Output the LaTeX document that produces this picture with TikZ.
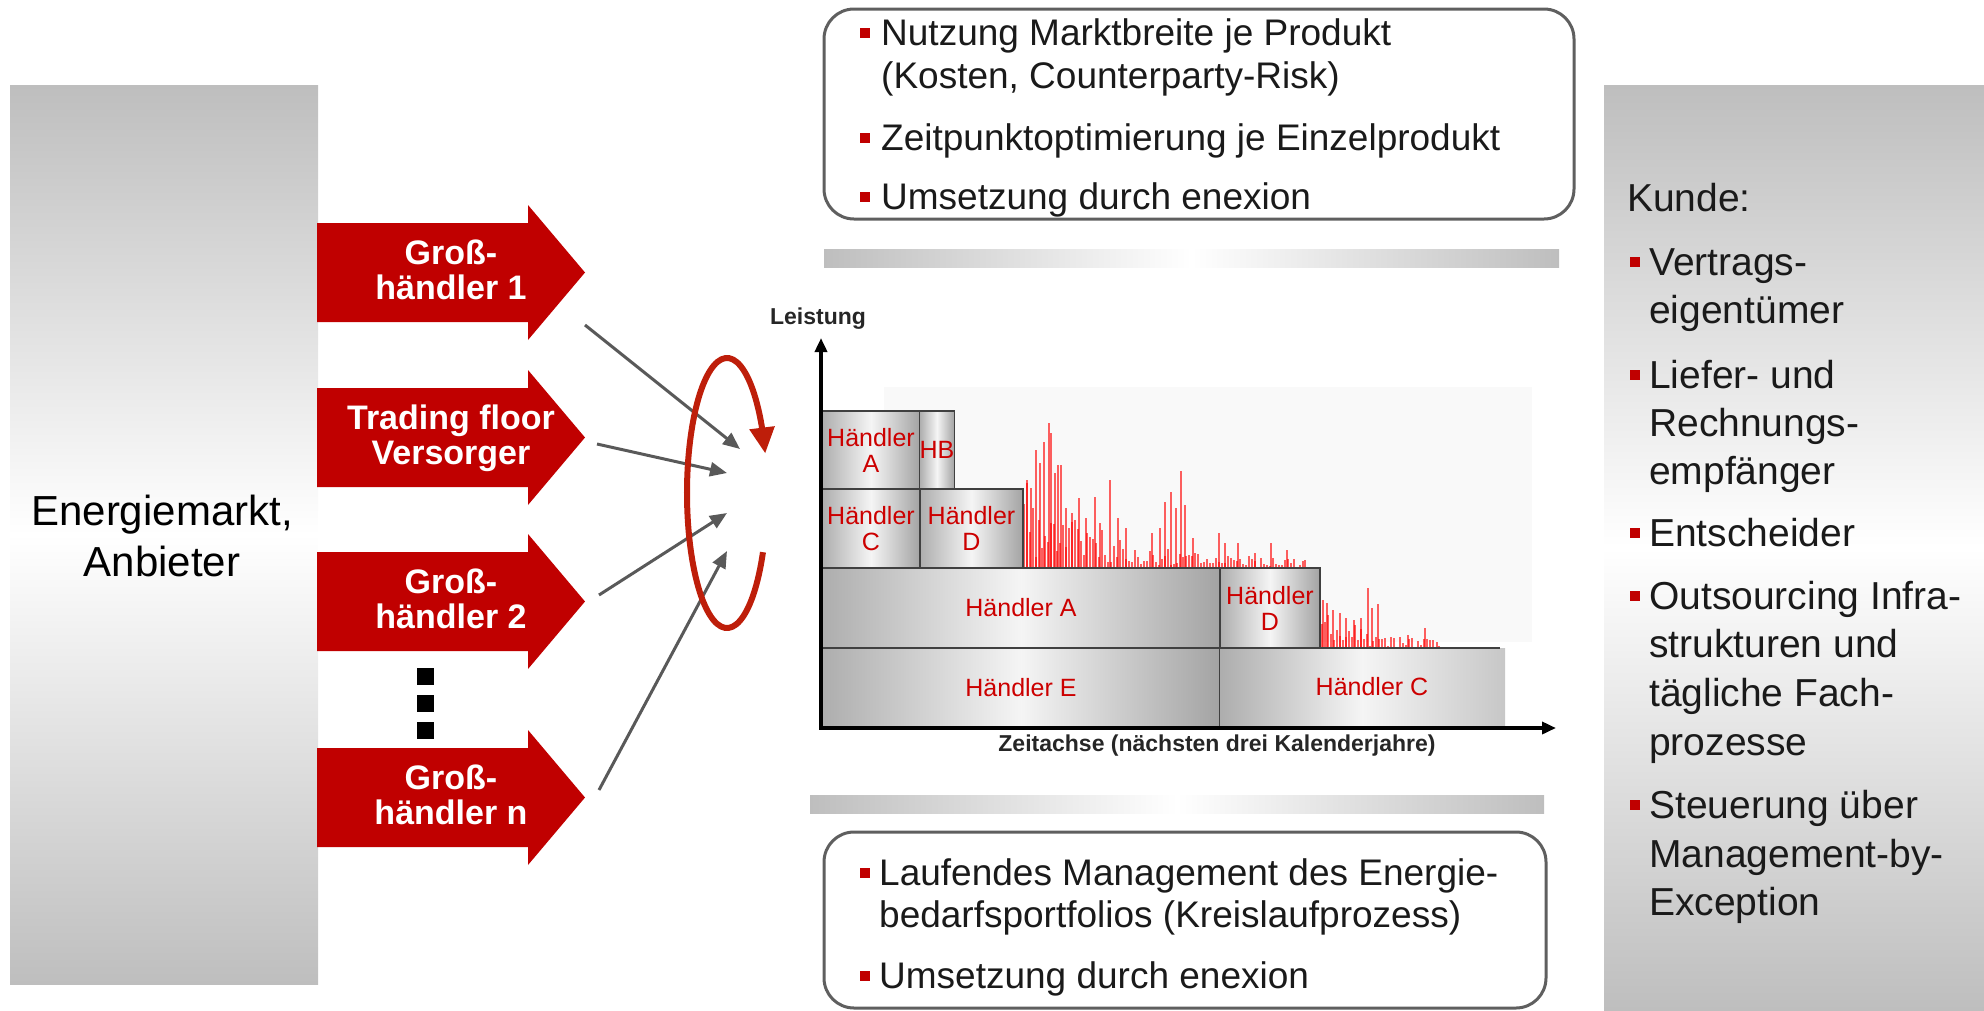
\documentclass[tikz,border=0pt]{standalone}
\usepackage{fontspec}
\setmainfont{Liberation Sans}
\usetikzlibrary{arrows.meta,bending}

\definecolor{arrowred}{RGB}{192,0,0}
\definecolor{loopred}{RGB}{190,30,10}
\definecolor{linkgray}{RGB}{89,89,89}
\definecolor{framegray}{RGB}{95,95,95}
\definecolor{panelgray}{RGB}{190,190,190}
\definecolor{textdark}{RGB}{26,26,26}
\definecolor{labelred}{RGB}{204,0,0}
\definecolor{blockedge}{RGB}{64,64,64}
\definecolor{spikered}{RGB}{255,0,0}
\definecolor{chartbg}{RGB}{249,249,249}

\newcommand\fsz[2]{\fontsize{#1}{#2}\selectfont}

\tikzset{
  blockarrow/.pic={\fill[arrowred] (0,-49.5) -- (211,-49.5) -- (211,-67.5) -- (268,0)
      -- (211,67.5) -- (211,49.5) -- (0,49.5) -- cycle;},
  arrowlabel/.style={text=white, font=\fsz{34}{35}\bfseries, align=center, inner sep=0pt},
  link/.style={draw=linkgray, line width=3pt, -{Triangle[length=17pt,width=14pt]}},
  cycleloop/.style={draw=loopred, line width=6pt, -{Triangle[length=26pt,width=24pt]}},
  chartaxis/.style={draw=black, line width=3.5pt,
      {Triangle[length=14pt,width=12pt]}-{Triangle[length=14pt,width=12pt]}},
  block/.style={draw=blockedge, line width=1.5pt, left color=black!32, right color=black!36,
      middle color=black!4, inner sep=0pt, text=labelred, font=\fsz{25}{26}, align=center},
  blocklabel/.style={inner sep=0pt, text=labelred, font=\fsz{25}{26}, align=center},
  spike/.style={draw=spikered, line width=1.6pt, opacity=.62},
  framebox/.style={draw=framegray, line width=3pt, rounded corners=30pt, fill=white},
  itemtxt/.style={anchor=base west, inner sep=0pt, text=textdark, font=\fsz{37}{43}},
  sidetxt/.style={anchor=base west, inner sep=0pt, text=textdark, font=\fsz{39}{48}},
  axislabel/.style={inner sep=0pt, text=black!85, font=\fsz{23}{23}\bfseries},
  bulletsq/.style={fill=arrowred},
  panel/.style={top color=panelgray, bottom color=panelgray, middle color=white},
  hbar/.style={left color=panelgray, right color=panelgray, middle color=white},
}

\begin{document}
\begin{tikzpicture}[x=1pt,y=-1pt]
\useasboundingbox (0,0) rectangle (1984,1010);

% ---------- side panels ----------
\shade[panel] (10,85) rectangle (318,984);
\shade[panel] (1604,85) rectangle (1984,1010);

\node[inner sep=0pt, font=\fsz{42}{51}, align=center, text=black] (mkt) at (162,536)
  {Energiemarkt,\\Anbieter};

% ---------- suppliers ----------
\pic (arr1) at (317,272.5) {blockarrow};
\pic (arr2) at (317,437.5) {blockarrow};
\pic (arr3) at (317,601.5) {blockarrow};
\pic (arr4) at (317,797.5) {blockarrow};

\node[arrowlabel] (g1) at (451,270) {Groß-\\händler 1};
\node[arrowlabel] (tf) at (451,438.6) {Trading floor\\Versorger};
\node[arrowlabel] (g2) at (451,599) {Groß-\\händler 2};
\node[arrowlabel] (gn) at (451,795) {Groß-\\händler n};

\fill (417,668) rectangle (434,685);
\fill (417,695) rectangle (434,712);
\fill (417,722) rectangle (434,739);

% ---------- links into the cycle ----------
\coordinate (s1) at (585,325);  \coordinate (e1) at (740,449);
\coordinate (s2) at (597,444);  \coordinate (e2) at (727,473);
\coordinate (s3) at (599,595);  \coordinate (e3) at (727,513);
\coordinate (s4) at (599,790);  \coordinate (e4) at (727,551);
\draw[link] (s1) -- (e1);
\draw[link] (s2) -- (e2);
\draw[link] (s3) -- (e3);
\draw[link] (s4) -- (e4);

\coordinate (loopc) at (727,493);
\draw[cycleloop] (loopc) ++(26:40 and 135)
  arc[start angle=26, end angle=343, x radius=40, y radius=135];

% ---------- portfolio chart ----------
\fill[chartbg] (884,387) rectangle (1532,642);

% load profile: random background plus the pronounced peaks
\pgfmathsetseed{11}
\foreach \x in {1024,1027,...,1308}{
  \pgfmathsetmacro\h{(8+85*exp(-(\x-1023)/80))*(0.1+0.9*rnd)}
  \draw[spike] (\x,568) -- ++(0,-\h);
}
\foreach \x/\h in {1027/88,1031/80,1036/118,1040/105,1044/126,1049/145,1051/135,
    1055/95,1058/103,1061/103,1066/60,1072/55,1079/70,1086/50,1095/71,1100/45,
    1110/88,1118/50,1126/40,1152/35,1160/40,1165/66,1171/76,1176/60,1181/97,
    1185/63,1193/30,1219/35,1225/25,1238/25,1255/15,1271/25,1287/18,1305/8}{
  \draw[spike] (\x,568) -- ++(0,-\h);
}
\foreach \x in {1322,1325,...,1440}{
  \pgfmathsetmacro\h{(5+40*exp(-(\x-1322)/45))*(0.1+0.9*rnd)}
  \draw[spike] (\x,648) -- ++(0,-\h);
}
\foreach \x/\h in {1323/48,1327/45,1333/38,1340/35,1346/30,1354/28,1361/30,
    1368/60,1372/40,1378/44,1408/13,1425/20,1437/6}{
  \draw[spike] (\x,648) -- ++(0,-\h);
}

\node[block, minimum width=98pt, minimum height=78pt] (ha1) at (871,450) {Händler\\A};
\node[block, minimum width=34pt, minimum height=78pt] (hb) at (937,450) {HB};
\node[block, minimum width=98pt, minimum height=79pt] (hc1) at (871,528.5) {Händler\\C};
\node[block, minimum width=103pt, minimum height=79pt] (hd1) at (971.5,528.5) {Händler\\D};
\node[block, minimum width=398pt, minimum height=80pt] (ha2) at (1021,608) {Händler A};
\node[block, minimum width=100pt, minimum height=80pt] (hd2) at (1270,608) {Händler\\D};
\node[block, minimum width=398pt, minimum height=80pt] (he) at (1021,688) {Händler E};
\shade[left color=black!32, right color=black!22, middle color=black!4]
  (1220,648) rectangle (1505,728);
\draw[blockedge, line width=1.5pt] (1220,648) -- (1500,648);
\node[blocklabel] (hc2) at (1372,687) {Händler C};

\coordinate (origin) at (821,728);
\coordinate (ytip) at (821,338);
\coordinate (xtip) at (1556,728);
\draw[chartaxis] (ytip) -- (origin) -- (xtip);
\node[axislabel] (ylab) at (818,319) {Leistung};
\node[axislabel] (xlab) at (1217,746) {Zeitachse (nächsten drei Kalenderjahre)};

% ---------- separator bars ----------
\shade[hbar] (824,249) rectangle (1559,267);
\shade[hbar] (810,795) rectangle (1544,813);

% ---------- upper text box ----------
\draw[framebox] (824,9) rectangle (1574,219);
\fill[bulletsq] (860,27.5) rectangle (870,37.5);
\node[itemtxt] (u1) at (881,45) {Nutzung Marktbreite je Produkt};
\node[itemtxt] (u1b) at (881,88) {(Kosten, Counterparty-Risk)};
\fill[bulletsq] (860,132.5) rectangle (870,142.5);
\node[itemtxt] (u2) at (881,150) {Zeitpunktoptimierung je Einzelprodukt};
\fill[bulletsq] (860,191.5) rectangle (870,201.5);
\node[itemtxt] (u3) at (881,209) {Umsetzung durch enexion};

% ---------- lower text box ----------
\draw[framebox] (824,832) rectangle (1546,1008);
\fill[bulletsq] (860,867.5) rectangle (870,877.5);
\node[itemtxt] (l1) at (879,885) {Laufendes Management des Energie-};
\node[itemtxt] (l1b) at (879,927) {bedarfsportfolios (Kreislaufprozess)};
\fill[bulletsq] (860,970.5) rectangle (870,980.5);
\node[itemtxt] (l2) at (879,988) {Umsetzung durch enexion};

% ---------- customer panel ----------
\node[sidetxt] (kunde) at (1627,211) {Kunde:};
\fill[bulletsq] (1630,257) rectangle (1640,267);
\node[sidetxt] (k1) at (1649,275) {Vertrags-};
\node[sidetxt] (k1b) at (1649,323) {eigentümer};
\fill[bulletsq] (1630,370) rectangle (1640,380);
\node[sidetxt] (k2) at (1649,388) {Liefer- und};
\node[sidetxt] (k2b) at (1649,436) {Rechnungs-};
\node[sidetxt] (k2c) at (1649,484) {empfänger};
\fill[bulletsq] (1630,528) rectangle (1640,538);
\node[sidetxt] (k3) at (1649,546) {Entscheider};
\fill[bulletsq] (1630,591) rectangle (1640,601);
\node[sidetxt] (k4) at (1649,609) {Outsourcing Infra-};
\node[sidetxt] (k4b) at (1649,657) {strukturen und};
\node[sidetxt] (k4c) at (1649,706) {tägliche Fach-};
\node[sidetxt] (k4d) at (1649,755) {prozesse};
\fill[bulletsq] (1630,800) rectangle (1640,810);
\node[sidetxt] (k5) at (1649,818) {Steuerung über};
\node[sidetxt] (k5b) at (1649,867) {Management-by-};
\node[sidetxt] (k5c) at (1649,915) {Exception};
\end{tikzpicture}
\end{document}
